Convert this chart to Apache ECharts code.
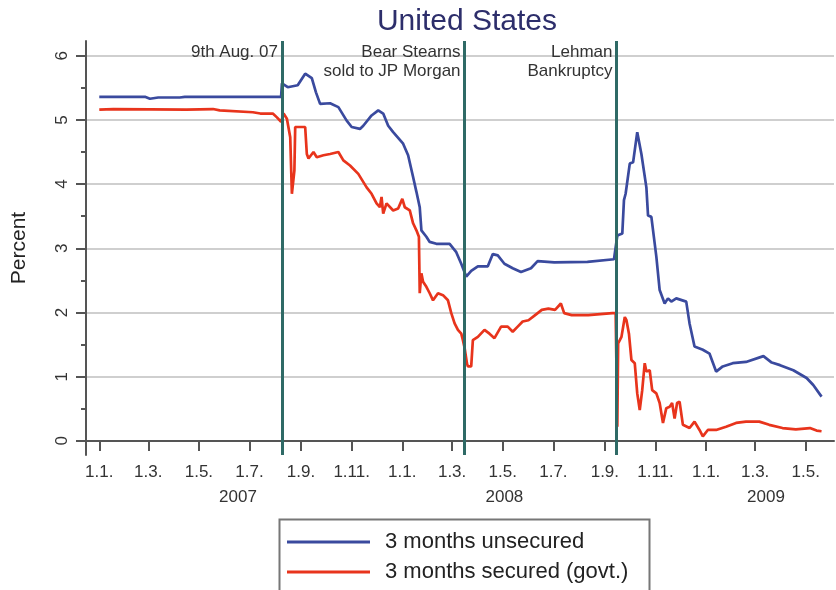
<!DOCTYPE html>
<html>
<head>
<meta charset="utf-8">
<script src="https://cdn.jsdelivr.net/npm/echarts@6/dist/echarts.min.js"></script>
<style>
html, body { margin: 0; padding: 0; background: #fff; }
#chart { width: 836px; height: 590px; }
</style>
</head>
<body>
<div id="chart"></div>
<script>
// 3 month interbank rates, United States (percent)
var unsecuredDates = [
    '2007-01-01', '2007-02-25', '2007-03-03', '2007-03-13', '2007-04-08', '2007-04-14', '2007-08-08',
    '2007-08-09', '2007-08-16', '2007-08-28', '2007-09-06', '2007-09-14', '2007-09-19', '2007-09-24',
    '2007-10-06', '2007-10-16', '2007-10-26', '2007-11-01', '2007-11-11', '2007-11-15', '2007-11-25',
    '2007-12-03', '2007-12-09', '2007-12-15', '2007-12-21', '2008-01-02', '2008-01-08', '2008-01-14',
    '2008-01-18', '2008-01-22', '2008-01-24', '2008-01-30', '2008-02-03', '2008-02-11', '2008-02-27',
    '2008-03-06', '2008-03-12', '2008-03-18', '2008-03-24', '2008-04-01', '2008-04-13', '2008-04-19',
    '2008-04-25', '2008-05-03', '2008-05-13', '2008-05-23', '2008-06-04', '2008-06-12', '2008-07-02',
    '2008-08-11', '2008-09-12', '2008-09-16', '2008-09-22', '2008-09-24', '2008-09-26', '2008-10-01',
    '2008-10-05', '2008-10-10', '2008-10-15', '2008-10-21', '2008-10-23', '2008-10-27', '2008-11-02',
    '2008-11-06', '2008-11-12', '2008-11-16', '2008-11-20', '2008-11-26', '2008-12-08', '2008-12-12',
    '2008-12-18', '2008-12-28', '2009-01-05', '2009-01-13', '2009-01-21', '2009-02-02', '2009-02-18',
    '2009-03-11', '2009-03-21', '2009-03-31', '2009-04-16', '2009-05-02', '2009-05-10', '2009-05-20'
];
var unsecuredValues = [
    5.36, 5.36, 5.33, 5.35, 5.35, 5.36, 5.36,
    5.57, 5.51, 5.54, 5.72, 5.65, 5.43, 5.25,
    5.26, 5.20, 4.99, 4.89, 4.86, 4.91, 5.07,
    5.15, 5.10, 4.91, 4.81, 4.63, 4.45, 4.11,
    3.88, 3.64, 3.28, 3.18, 3.10, 3.07, 3.07,
    2.94, 2.76, 2.56, 2.65, 2.72, 2.72, 2.91,
    2.89, 2.76, 2.69, 2.63, 2.69, 2.80, 2.78,
    2.79, 2.83, 3.20, 3.23, 3.75, 3.85, 4.32,
    4.34, 4.81, 4.47, 3.95, 3.51, 3.49, 2.87,
    2.35, 2.14, 2.22, 2.17, 2.22, 2.17, 1.83,
    1.47, 1.42, 1.36, 1.08, 1.16, 1.21, 1.23,
    1.32, 1.22, 1.18, 1.10, 0.98, 0.87, 0.69
];
var securedDates = [
    '2007-01-01', '2007-01-18', '2007-04-16', '2007-05-18', '2007-05-26', '2007-07-05', '2007-07-14',
    '2007-07-29', '2007-08-03', '2007-08-08', '2007-08-11', '2007-08-15', '2007-08-19', '2007-08-21',
    '2007-08-24', '2007-08-25', '2007-09-06', '2007-09-08', '2007-09-10', '2007-09-16', '2007-09-20',
    '2007-09-28', '2007-10-06', '2007-10-16', '2007-10-22', '2007-10-30', '2007-11-09', '2007-11-19',
    '2007-11-25', '2007-12-01', '2007-12-05', '2007-12-07', '2007-12-09', '2007-12-13', '2007-12-21',
    '2007-12-27', '2008-01-01', '2008-01-04', '2008-01-10', '2008-01-14', '2008-01-18', '2008-01-21',
    '2008-01-22', '2008-01-24', '2008-01-26', '2008-01-30', '2008-02-03', '2008-02-07', '2008-02-13',
    '2008-02-19', '2008-02-25', '2008-02-29', '2008-03-04', '2008-03-08', '2008-03-12', '2008-03-14',
    '2008-03-16', '2008-03-19', '2008-03-20', '2008-03-24', '2008-03-26', '2008-04-01', '2008-04-09',
    '2008-04-15', '2008-04-21', '2008-04-29', '2008-05-07', '2008-05-13', '2008-05-19', '2008-05-25',
    '2008-06-01', '2008-06-09', '2008-06-17', '2008-06-25', '2008-07-03', '2008-07-10', '2008-07-14',
    '2008-07-23', '2008-08-12', '2008-09-10', '2008-09-14', '2008-09-16', '2008-09-17', '2008-09-21',
    '2008-09-25', '2008-09-27', '2008-09-30', '2008-10-03', '2008-10-07', '2008-10-10', '2008-10-13',
    '2008-10-16', '2008-10-19', '2008-10-21', '2008-10-25', '2008-10-28', '2008-11-02', '2008-11-06',
    '2008-11-10', '2008-11-14', '2008-11-18', '2008-11-21', '2008-11-24', '2008-11-27', '2008-11-30',
    '2008-12-04', '2008-12-12', '2008-12-18', '2008-12-24', '2008-12-28', '2009-01-03', '2009-01-13',
    '2009-01-25', '2009-02-06', '2009-02-18', '2009-03-06', '2009-03-18', '2009-04-03', '2009-04-19',
    '2009-05-06', '2009-05-14', '2009-05-20'
];
var securedValues = [
    5.16, 5.17, 5.16, 5.17, 5.15, 5.12, 5.10,
    5.10, 5.04, 4.97, 5.10, 5.02, 4.73, 3.85,
    4.21, 4.89, 4.89, 4.47, 4.40, 4.50, 4.42,
    4.45, 4.47, 4.50, 4.37, 4.29, 4.16, 3.95,
    3.85, 3.70, 3.64, 3.80, 3.54, 3.70, 3.59,
    3.62, 3.77, 3.64, 3.59, 3.39, 3.28, 3.18,
    2.30, 2.61, 2.48, 2.40, 2.30, 2.19, 2.30,
    2.27, 2.19, 1.99, 1.83, 1.73, 1.67, 1.57,
    1.45, 1.20, 1.16, 1.16, 1.57, 1.62, 1.73,
    1.67, 1.60, 1.78, 1.78, 1.70, 1.78, 1.86,
    1.88, 1.96, 2.04, 2.06, 2.04, 2.14, 1.99,
    1.96, 1.96, 1.99, 1.99, 0.22, 1.52, 1.62,
    1.93, 1.88, 1.67, 1.26, 1.21, 0.74, 0.48,
    0.79, 1.21, 1.08, 1.10, 0.79, 0.74, 0.59,
    0.28, 0.51, 0.53, 0.59, 0.35, 0.59, 0.61,
    0.25, 0.20, 0.30, 0.17, 0.07, 0.17, 0.17,
    0.22, 0.28, 0.30, 0.30, 0.25, 0.20, 0.18,
    0.20, 0.16, 0.15
];
var seriesNames = ['3 months unsecured', '3 months secured (govt.)'];
var eventDates = ['2007-08-09', '2008-03-16', '2008-09-15'];
var eventLabels = ['9th Aug. 07', 'Bear Stearns\nsold to JP Morgan', 'Lehman\nBankruptcy'];
var tickDates = [
    '2007-01-01', '2007-03-01', '2007-05-01', '2007-07-01', '2007-09-01', '2007-11-01',
    '2008-01-01', '2008-03-01', '2008-05-01', '2008-07-01', '2008-09-01', '2008-11-01',
    '2009-01-01', '2009-03-01', '2009-05-01'
];
var yearLabels = ['2007', '2008', '2009'];
var yearLabelDates = ['2007-06-17', '2008-05-03', '2009-03-14'];
var percentTicks = [0, 1, 2, 3, 4, 5, 6];
var percentMinorTicks = [0.5, 1.5, 2.5, 3.5, 4.5, 5.5];

// local-time timestamp
function t(s) {
    var p = s.split('-');
    return new Date(+p[0], +p[1] - 1, +p[2]).getTime();
}
function pairs(dates, values) {
    return dates.map(function (d, i) { return [t(d), values[i]]; });
}

var font = '"Liberation Sans", Arial, sans-serif';
var axisGrey = '#555';
var eventColor = '#2f6a66';
var xMin = t('2006-12-16');
var xMax = t('2009-06-04');
var yearTimes = yearLabelDates.map(t);

var dom = document.getElementById('chart');
var myChart = echarts.init(dom);
var option = {
    animation: false,
    backgroundColor: '#fff',
    title: {
        text: 'United States',
        left: 462,
        textAlign: 'center',
        top: 2,
        textStyle: { fontFamily: font, fontSize: 30, fontWeight: 'normal', color: '#2d2e6b' }
    },
    grid: { left: 86, right: 2, top: 41, bottom: 135, containLabel: false },
    // legend frame runs off the bottom of the picture
    graphic: [{
        type: 'rect',
        left: 277,
        top: 517,
        shape: { width: 370, height: 110 },
        style: { fill: 'none', stroke: '#777', lineWidth: 2 },
        silent: true
    }],
    legend: {
        data: seriesNames,
        orient: 'vertical',
        left: 278,
        top: 518,
        padding: [13, 0, 0, 9],
        itemGap: 8,
        itemWidth: 83,
        itemHeight: 3,
        icon: 'rect',
        textStyle: { fontFamily: font, fontSize: 22, lineHeight: 22, color: '#222', padding: [0, 0, 0, 10] }
    },
    xAxis: [
        {
            type: 'value',
            min: xMin,
            max: xMax,
            axisLine: { lineStyle: { color: axisGrey, width: 2 } },
            axisTick: { customValues: tickDates.map(t), length: 10, lineStyle: { color: axisGrey, width: 2 } },
            axisLabel: {
                customValues: tickDates.map(t),
                margin: 9,
                fontFamily: font,
                fontSize: 17,
                color: '#333',
                formatter: function (v) {
                    var d = new Date(v);
                    return d.getDate() + '.' + (d.getMonth() + 1) + '.';
                }
            },
            splitLine: { show: false }
        },
        {
            type: 'value',
            position: 'bottom',
            min: xMin,
            max: xMax,
            axisLine: { show: false },
            axisTick: { show: false },
            axisLabel: {
                customValues: yearTimes,
                margin: 34,
                fontFamily: font,
                fontSize: 17,
                color: '#333',
                formatter: function (v) {
                    return yearLabels[yearTimes.indexOf(v)];
                }
            },
            splitLine: { show: false }
        }
    ],
    yAxis: [
        {
            type: 'value',
            min: -0.22,
            max: 6.23,
            name: 'Percent',
            nameLocation: 'middle',
            nameRotate: 90,
            nameGap: 56,
            nameTextStyle: { fontFamily: font, fontSize: 21, color: '#222' },
            axisLine: { show: true, lineStyle: { color: axisGrey, width: 2 } },
            axisTick: { show: true, customValues: percentTicks, length: 10, lineStyle: { color: axisGrey, width: 2 } },
            axisLabel: { customValues: percentTicks, rotate: 90, margin: 15, fontFamily: font, fontSize: 17, color: '#333' },
            splitLine: { show: true, lineStyle: { color: '#cfcfcf', width: 2 } }
        },
        {
            type: 'value',
            position: 'left',
            min: -0.22,
            max: 6.23,
            axisLine: { show: false },
            axisTick: { show: true, customValues: percentMinorTicks, length: 5, lineStyle: { color: axisGrey, width: 2 } },
            axisLabel: { show: false },
            splitLine: { show: false }
        }
    ],
    series: [
        {
            name: seriesNames[0],
            type: 'line',
            data: pairs(unsecuredDates, unsecuredValues),
            showSymbol: false,
            color: '#3a4a9e',
            lineStyle: { width: 2.7 },
            z: 3,
            markLine: {
                silent: true,
                symbol: ['none', 'none'],
                label: { show: false },
                lineStyle: { color: eventColor, width: 3, type: 'solid' },
                data: eventDates.map(function (d) { return { xAxis: t(d) }; })
            },
            markPoint: {
                silent: true,
                symbol: 'circle',
                symbolSize: 0,
                label: {
                    show: true,
                    position: 'left',
                    distance: 4,
                    align: 'right',
                    verticalAlign: 'top',
                    fontFamily: font,
                    fontSize: 17,
                    lineHeight: 19,
                    color: '#333',
                    formatter: function (p) { return eventLabels[p.dataIndex]; }
                },
                data: eventDates.map(function (d) { return { coord: [t(d), 6.2] }; })
            }
        },
        {
            name: seriesNames[1],
            type: 'line',
            data: pairs(securedDates, securedValues),
            showSymbol: false,
            color: '#e8341c',
            lineStyle: { width: 2.7 },
            z: 2
        }
    ]
};
myChart.setOption(option, true);
</script>
</body>
</html>
